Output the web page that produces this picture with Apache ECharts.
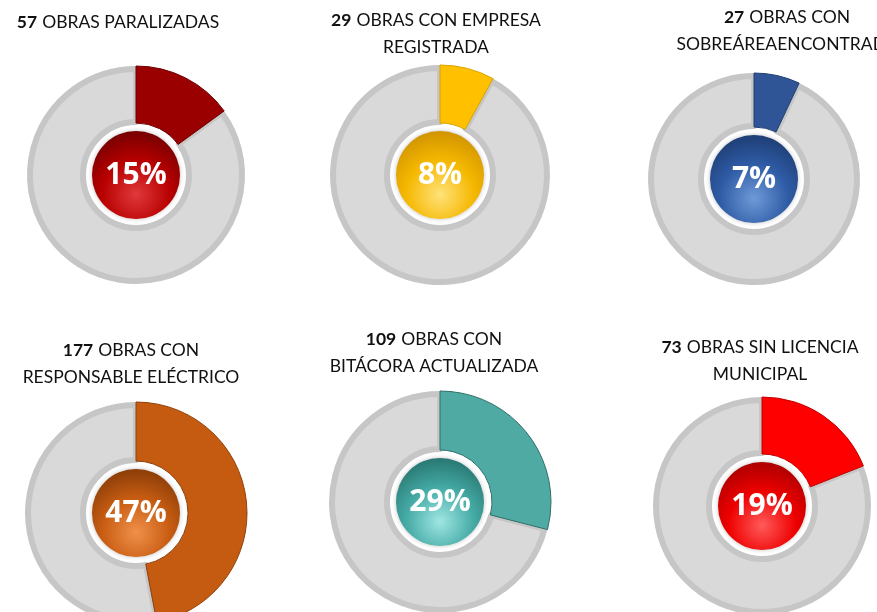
<!DOCTYPE html>
<html>
<head>
<meta charset="utf-8">
<script src="https://cdn.jsdelivr.net/npm/echarts@6/dist/echarts.min.js"></script>
<style>
  html, body { margin: 0; padding: 0; background: #fff; }
  #chart { width: 877px; height: 612px; }
</style>
</head>
<body>
<div id="chart"></div>
<script>
// data
const counts = [57, 29, 27, 177, 109, 73];
const percents = [15, 8, 7, 47, 29, 19];
const titleFirst = ['OBRAS PARALIZADAS', 'OBRAS CON EMPRESA', 'OBRAS CON', 'OBRAS CON', 'OBRAS CON', 'OBRAS SIN LICENCIA'];
const titleSecond = ['', 'REGISTRADA', 'SOBREÁREAENCONTRADA', 'RESPONSABLE ELÉCTRICO', 'BITÁCORA ACTUALIZADA', 'MUNICIPAL'];

// layout and colours
const centers = [[136, 175], [440, 175], [754, 179], [136, 513], [440, 502], [762, 506]];
const outerR = [106, 107, 103, 108, 108, 106];
const titlePos = [[113, 4], [431, 2], [782, -1], [126, 332], [429, 321], [755, 329]];
const sliceColors = ['#9a0000', '#ffc000', '#2f5597', '#c55a11', '#4eaaa2', '#ff0000'];
const sliceBorders = ['#6e0000', '#d9a200', '#223f70', '#8f400b', '#2f6f6a', '#c00000'];
const ballLight = ['#e0393c', '#ffe27a', '#6f9ad8', '#f0904a', '#9fe6e3', '#ff5a5a'];
const ballMid = ['#b80000', '#f5b800', '#2f5ca6', '#c85d12', '#45aaa5', '#ee0000'];
const ballDark = ['#7a0000', '#d39600', '#1f4078', '#8f3f09', '#2a7a75', '#b00000'];

const chart = echarts.init(document.getElementById('chart'));

const titles = counts.map((c, i) => ({
  left: titlePos[i][0],
  top: titlePos[i][1],
  textAlign: 'center',
  text: '{b|' + c + '} {n|' + titleFirst[i] + '}' + (titleSecond[i] ? '\n{n|' + titleSecond[i] + '}' : ''),
  textStyle: {
    fontWeight: 'normal',
    rich: {
      b: { fontFamily: 'Lato', fontWeight: 'bold', fontSize: 17.5, color: '#111', lineHeight: 27 },
      n: { fontFamily: 'Lato', fontWeight: 'normal', fontSize: 17.5, color: '#111', lineHeight: 27 }
    }
  }
}));

const series = [];
percents.forEach((p, i) => {
  const c = centers[i];
  const r = outerR[i];
  // grey track
  series.push({
    type: 'pie', center: c, radius: [53, r], startAngle: 90, clockwise: true,
    silent: true, label: { show: false }, labelLine: { show: false },
    data: [
      { value: p, itemStyle: { color: 'rgba(0,0,0,0)', borderWidth: 0 } },
      { value: 100 - p, itemStyle: { color: '#d9d9d9', borderColor: '#c6c6c6', borderWidth: 6 } }
    ]
  });
  // coloured slice
  series.push({
    type: 'pie', center: c, radius: [52, r + 3], startAngle: 90, clockwise: true,
    silent: true, label: { show: false }, labelLine: { show: false },
    data: [
      { value: p, itemStyle: { color: sliceColors[i], borderColor: sliceBorders[i], borderWidth: 1 } },
      { value: 100 - p, itemStyle: { color: 'rgba(0,0,0,0)', borderWidth: 0 } }
    ]
  });
  // glossy ball with the percentage
  series.push({
    type: 'pie', center: c, radius: [0, 44], silent: true,
    labelLine: { show: false },
    label: {
      show: true, position: 'center', formatter: p + '%',
      fontFamily: 'Open Sans', fontWeight: 'bold', fontSize: 30, color: '#fff'
    },
    data: [{
      value: 1,
      itemStyle: {
        color: new echarts.graphic.RadialGradient(0.5, 0.72, 0.7, [
          { offset: 0, color: ballLight[i] },
          { offset: 0.55, color: ballMid[i] },
          { offset: 1, color: ballDark[i] }
        ]),
        shadowColor: 'rgba(0,0,0,0.25)', shadowBlur: 4
      }
    }]
  });
});

chart.setOption({
  animation: false,
  title: titles,
  series: series
});
</script>
</body>
</html>
